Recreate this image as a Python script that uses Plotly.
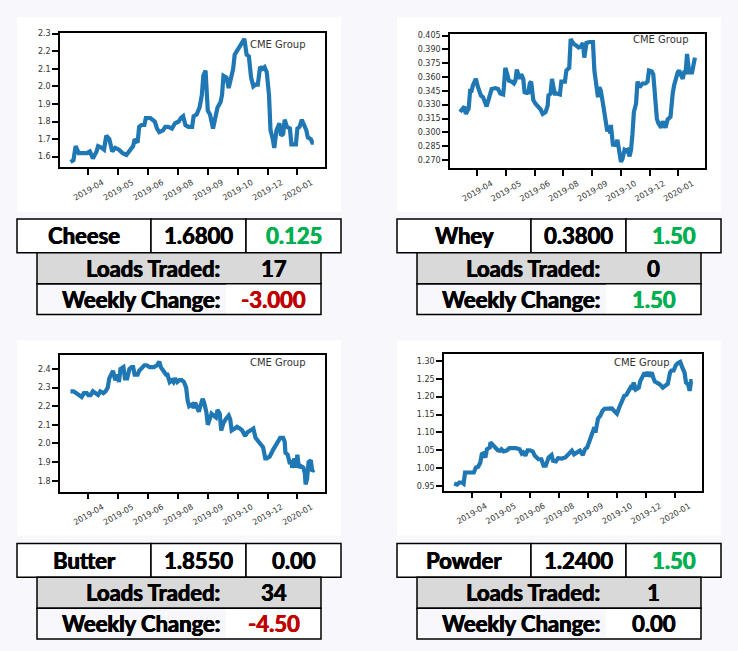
import pandas as pd
import plotly.graph_objects as go

BASE_DATE = "2019-03-12"

cheese_days = [0,4,7,11,17,22,26,30,35,37,
               42,45,48,52,56,60,65,70,75,80,
               84,86,90,92,95,99,101,107,113,116,
               119,124,127,131,136,140,145,148,151,154,
               158,163,165,169,173,176,178,181,184,187,
               191,194,197,201,203,205,209,212,215,218,
               220,223,227,230,233,236,239,242,245,248,
               251,254,257,260,263,266,268,271,273,276,
               280,282,285,287,290,294,296,299,302,304,
               307,310,313,316,318,322,324,326]
cheese_prices = [1.57,1.58,1.66,1.62,1.62,1.62,1.63,1.59,1.63,1.66,
                 1.65,1.64,1.72,1.70,1.63,1.65,1.64,1.62,1.61,1.64,
                 1.66,1.70,1.68,1.77,1.78,1.78,1.82,1.82,1.80,1.76,
                 1.74,1.75,1.77,1.77,1.76,1.79,1.80,1.82,1.83,1.78,
                 1.77,1.77,1.83,1.84,1.88,1.95,2.06,2.09,1.86,1.84,
                 1.76,1.82,1.88,1.91,1.95,2.06,2.05,1.99,2.05,2.10,
                 2.18,2.20,2.23,2.25,2.27,2.18,2.17,2.05,2.00,2.01,
                 2.01,2.11,2.10,2.11,2.08,1.95,1.75,1.70,1.65,1.75,
                 1.79,1.72,1.73,1.81,1.77,1.76,1.67,1.67,1.67,1.76,
                 1.77,1.81,1.78,1.75,1.71,1.70,1.68,1.68]

whey_days = [0,4,6,8,12,14,16,18,22,25,
             29,32,37,41,44,49,53,56,60,61,
             63,66,68,72,75,77,79,81,83,85,
             88,90,92,95,97,99,102,105,109,112,
             115,119,122,123,126,128,129,132,135,139,
             141,146,148,152,154,158,162,165,169,171,
             173,176,180,185,187,189,192,194,196,199,
             201,203,205,207,209,210,213,215,217,219,
             222,224,226,229,231,233,236,238,240,242,
             245,247,250,254,258,261,263,267,269,272,
             274,276,280,282,286,289,293,296,298,303,
             305,307,310,312,314,316,319,323,326,327]
whey_prices = [0.322,0.325,0.328,0.320,0.326,0.345,0.345,0.351,0.358,0.349,
               0.340,0.338,0.328,0.339,0.347,0.348,0.347,0.342,0.341,0.349,
               0.370,0.362,0.356,0.355,0.353,0.356,0.368,0.363,0.358,0.363,
               0.358,0.342,0.344,0.342,0.353,0.355,0.335,0.331,0.327,0.325,
               0.320,0.322,0.329,0.340,0.342,0.358,0.353,0.342,0.342,0.341,
               0.355,0.355,0.367,0.370,0.401,0.396,0.394,0.392,0.394,0.397,
               0.381,0.397,0.398,0.398,0.367,0.353,0.338,0.349,0.345,0.331,
               0.320,0.315,0.301,0.306,0.299,0.308,0.285,0.289,0.285,0.292,
               0.280,0.268,0.271,0.281,0.280,0.281,0.274,0.281,0.298,0.322,
               0.331,0.355,0.349,0.353,0.353,0.355,0.367,0.366,0.363,0.335,
               0.315,0.310,0.305,0.312,0.305,0.314,0.317,0.342,0.351,0.365,
               0.367,0.363,0.358,0.365,0.365,0.385,0.365,0.365,0.381,0.381]

butter_days = [0,4,8,12,15,18,22,24,27,30,
               34,37,40,44,47,50,52,55,57,60,
               63,65,67,71,73,76,79,82,84,86,
               90,92,95,99,102,106,109,112,116,119,
               121,125,128,130,133,136,138,140,143,146,
               149,152,155,157,159,163,165,167,169,172,
               174,177,179,182,184,186,189,192,195,197,
               200,202,205,208,212,214,216,220,223,227,
               230,234,237,241,245,248,251,254,258,261,
               263,267,272,277,281,285,287,288,291,294,
               296,297,300,302,304,306,308,312,314,315,
               317,319,322,324,326]
butter_prices = [2.28,2.28,2.27,2.26,2.25,2.27,2.27,2.26,2.26,2.28,
                 2.27,2.26,2.28,2.27,2.28,2.30,2.35,2.37,2.39,2.34,
                 2.37,2.33,2.40,2.41,2.35,2.35,2.40,2.41,2.41,2.37,
                 2.37,2.39,2.40,2.42,2.42,2.41,2.41,2.41,2.42,2.44,
                 2.41,2.39,2.37,2.37,2.33,2.34,2.33,2.35,2.33,2.34,
                 2.34,2.33,2.30,2.23,2.20,2.21,2.19,2.22,2.20,2.17,
                 2.20,2.24,2.22,2.17,2.10,2.13,2.16,2.15,2.14,2.18,
                 2.16,2.07,2.11,2.13,2.15,2.13,2.07,2.08,2.09,2.08,
                 2.07,2.04,2.06,2.07,2.08,2.03,2.01,2.00,1.98,1.92,
                 1.92,1.93,1.97,2.00,2.03,2.03,2.01,1.95,1.94,1.89,
                 1.91,1.87,1.92,1.87,1.94,1.87,1.88,1.87,1.84,1.78,
                 1.81,1.90,1.91,1.85,1.86]

powder_days = [0,4,7,11,13,15,17,22,27,30,
               33,36,38,40,43,45,49,50,53,56,
               60,63,65,68,72,76,81,85,90,93,
               95,98,101,104,108,111,116,120,123,126,
               130,134,136,140,143,148,153,157,162,165,
               169,173,177,180,183,186,189,192,195,198,
               201,204,207,212,217,221,224,227,230,234,
               237,240,243,245,247,250,254,256,259,262,
               264,266,268,272,274,276,279,283,287,291,
               294,297,299,302,305,308,311,314,317,319,
               322,324,326,328]
powder_prices = [0.957,0.954,0.960,0.960,0.957,0.988,0.988,0.988,0.988,1.002,
                 1.004,1.016,1.039,1.041,1.030,1.053,1.058,1.072,1.065,1.056,
                 1.050,1.049,1.053,1.047,1.049,1.056,1.056,1.056,1.053,1.041,
                 1.044,1.035,1.050,1.050,1.047,1.035,1.025,1.025,1.007,1.007,
                 1.030,1.037,1.021,1.019,1.028,1.027,1.030,1.037,1.049,1.039,
                 1.044,1.049,1.037,1.053,1.058,1.076,1.086,1.109,1.106,1.139,
                 1.146,1.160,1.166,1.167,1.167,1.158,1.152,1.169,1.186,1.202,
                 1.205,1.216,1.227,1.225,1.239,1.220,1.225,1.243,1.257,1.267,
                 1.257,1.269,1.257,1.267,1.253,1.242,1.239,1.234,1.225,1.232,
                 1.236,1.267,1.273,1.273,1.288,1.294,1.297,1.281,1.267,1.239,
                 1.234,1.216,1.243,1.243]

tick_dates = ["2019-04-05","2019-05-15","2019-06-24","2019-08-03",
              "2019-09-12","2019-10-22","2019-12-01","2020-01-10"]
tick_labels = ["2019-04","2019-05","2019-06","2019-08",
               "2019-09","2019-10","2019-12","2020-01"]

products = ["Cheese", "Whey", "Butter", "Powder"]
last_prices = ["1.6800", "0.3800", "1.8550", "1.2400"]
net_changes = ["0.125", "1.50", "0.00", "1.50"]
loads_traded = ["17", "0", "34", "1"]
weekly_changes = ["-3.000", "1.50", "-4.50", "0.00"]
source_label = "CME Group"

W, H = 738, 651
BG = "#f8f8fc"
GREEN = "#00b050"
RED = "#c00000"
TFONT = "Lato, DejaVu Sans Condensed, sans-serif"
TSIZE = 22


def px(x):
    return x / W


def py(y):
    return 1 - y / H


def sign_color(s):
    v = float(s)
    return GREEN if v > 0 else (RED if v < 0 else "black")


def tfont(color):
    return dict(family=TFONT, size=TSIZE, color=color, weight=700,
                shadow=f"0.6px 0 0 {color}, -0.3px 0 0 {color}")


base = pd.Timestamp(BASE_DATE)
x_range = [base - pd.Timedelta(days=14), base + pd.Timedelta(days=341)]

panels = [
    dict(days=cheese_days, vals=cheese_prices, ax=(60, 325), ay=(30, 165),
         yr=(1.54, 2.304), tick0=1.6, dtick=0.1, fmt=".1f", ann=(278, 42),
         box=(17, 14), tab=(17, 217)),
    dict(days=whey_days, vals=whey_prices, ax=(450, 705), ay=(31, 166),
         yr=(0.2611, 0.4068), tick0=0.27, dtick=0.015, fmt=".3f", ann=(661, 37),
         box=(397, 14), tab=(397, 217)),
    dict(days=butter_days, vals=butter_prices, ax=(60, 325), ay=(354, 491),
         yr=(1.741, 2.473), tick0=1.8, dtick=0.1, fmt=".1f", ann=(278, 361),
         box=(17, 339), tab=(17, 543)),
    dict(days=powder_days, vals=powder_prices, ax=(444, 702), ay=(353, 490),
         yr=(0.937, 1.318), tick0=0.95, dtick=0.05, fmt=".2f", ann=(642, 361),
         box=(397, 339), tab=(397, 543)),
]

fig = go.Figure()
shapes = []
annotations = []
layout_axes = {}

for i, p in enumerate(panels):
    n = i + 1
    xs = [base + pd.Timedelta(days=d) for d in p["days"]]
    fig.add_trace(go.Scatter(
        x=xs, y=p["vals"], mode="lines",
        line=dict(color="#1f77b4", width=4.2),
        xaxis=f"x{n}", yaxis=f"y{n}", showlegend=False, hoverinfo="skip"))
    xk = "xaxis" if n == 1 else f"xaxis{n}"
    yk = "yaxis" if n == 1 else f"yaxis{n}"
    layout_axes[xk] = dict(
        domain=[px(p["ax"][0]), px(p["ax"][1])], anchor=f"y{n}",
        type="date", range=x_range,
        tickmode="array", tickvals=tick_dates, ticktext=tick_labels,
        tickangle=-30, ticks="outside", ticklen=6, tickwidth=1.5,
        tickcolor="black", showline=True, linecolor="black", linewidth=1.5,
        mirror=True, showgrid=False, zeroline=False, ticklabelshift=14,
        tickfont=dict(family="DejaVu Sans", size=8, color="#333"))
    layout_axes[yk] = dict(
        domain=[py(p["ay"][1]), py(p["ay"][0])], anchor=f"x{n}",
        range=list(p["yr"]), tick0=p["tick0"], dtick=p["dtick"],
        tickformat=p["fmt"], ticks="outside", ticklen=6, tickwidth=1.5,
        tickcolor="black", showline=True, linecolor="black", linewidth=1.5,
        mirror=True, showgrid=False, zeroline=False,
        tickfont=dict(family="DejaVu Sans", size=8, color="#333"))

    # white panel behind chart
    bx, by = p["box"]
    shapes.append(dict(type="rect", xref="paper", yref="paper", layer="below",
                       x0=px(bx), x1=px(bx + 324), y0=py(by + 196), y1=py(by),
                       fillcolor="white", line=dict(width=0)))
    annotations.append(dict(xref="paper", yref="paper", x=px(p["ann"][0]),
                            y=py(p["ann"][1]), text=source_label, showarrow=False,
                            xanchor="center", yanchor="middle",
                            font=dict(family="DejaVu Sans", size=10, color="#333")))

    # table
    tx, ty = p["tab"]
    r1 = (ty, ty + 34)
    r2 = (ty + 34, ty + 65)
    r3 = (ty + 65, ty + 96)
    cols = [tx, tx + 134, tx + 229, tx + 324]
    texts1 = [products[i], last_prices[i], net_changes[i]]
    colors1 = ["black", "black", sign_color(net_changes[i])]
    for c in range(3):
        shapes.append(dict(type="rect", xref="paper", yref="paper",
                           x0=px(cols[c]), x1=px(cols[c + 1]),
                           y0=py(r1[1]), y1=py(r1[0]), fillcolor="white",
                           line=dict(color="black", width=1.5)))
        annotations.append(dict(xref="paper", yref="paper",
                                x=px((cols[c] + cols[c + 1]) / 2),
                                y=py((r1[0] + r1[1]) / 2), text=texts1[c],
                                showarrow=False, xanchor="center", yanchor="middle",
                                font=tfont(colors1[c])))
    sx0, sx1 = tx + 20, tx + 304
    vx0 = tx + 209
    shapes.append(dict(type="rect", xref="paper", yref="paper",
                       x0=px(sx0), x1=px(sx1), y0=py(r2[1]), y1=py(r2[0]),
                       fillcolor="#d9d9d9", line=dict(color="black", width=1.5)))
    shapes.append(dict(type="rect", xref="paper", yref="paper",
                       x0=px(vx0), x1=px(sx1), y0=py(r3[1]), y1=py(r3[0]),
                       fillcolor="white", line=dict(width=0)))
    shapes.append(dict(type="rect", xref="paper", yref="paper",
                       x0=px(sx0), x1=px(sx1), y0=py(r3[1]), y1=py(r3[0]),
                       fillcolor="rgba(0,0,0,0)", line=dict(color="black", width=1.5)))
    rows = [("Loads Traded:", loads_traded[i], "black", r2),
            ("Weekly Change:", weekly_changes[i], sign_color(weekly_changes[i]), r3)]
    for label, val, col, r in rows:
        yc = py((r[0] + r[1]) / 2)
        annotations.append(dict(xref="paper", yref="paper", x=px(tx + 205), y=yc,
                                text=label, showarrow=False,
                                xanchor="right", yanchor="middle",
                                font=tfont("black")))
        annotations.append(dict(xref="paper", yref="paper",
                                x=px((vx0 + sx1) / 2), y=yc,
                                text=val, showarrow=False,
                                xanchor="center", yanchor="middle",
                                font=tfont(col)))

fig.update_layout(
    width=W, height=H, margin=dict(l=0, r=0, t=0, b=0),
    paper_bgcolor=BG, plot_bgcolor="white",
    shapes=shapes, annotations=annotations, **layout_axes)

fig.write_html(
    "out.html",
    config={"displayModeBar": False},
    post_script="document.body.style.margin='0';document.body.style.overflow='hidden';")
